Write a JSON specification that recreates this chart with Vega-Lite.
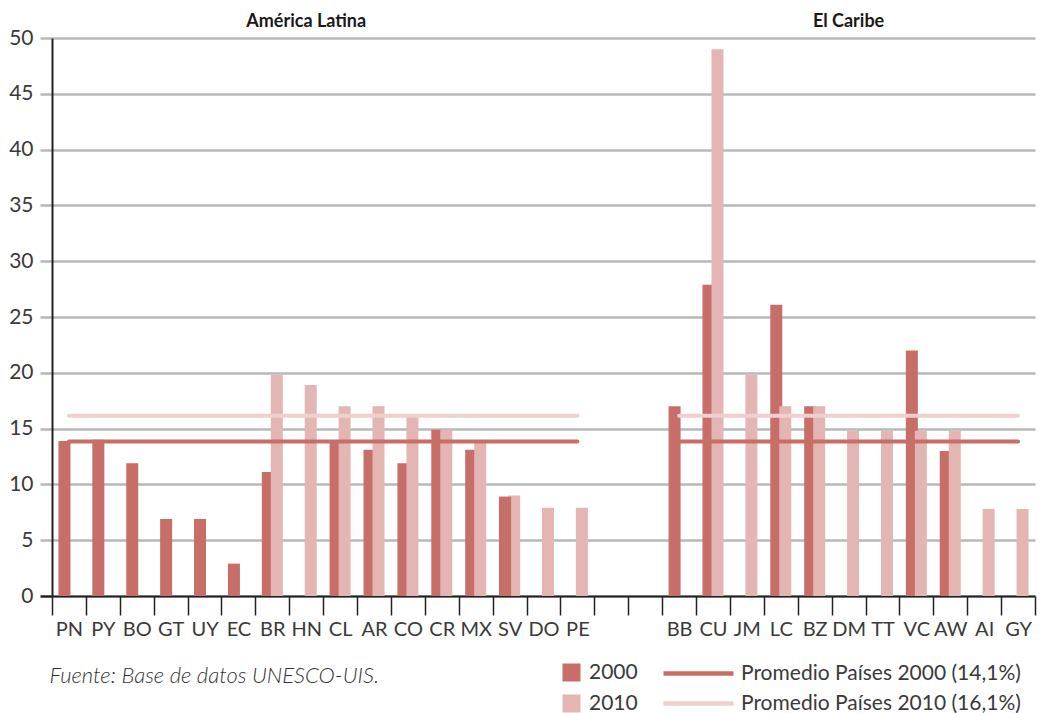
{
  "$schema": "https://vega.github.io/schema/vega-lite/v6.json",
  "width": 983,
  "height": 558,
  "autosize": {"type": "none"},
  "padding": {"left": 52, "top": 38, "right": 14, "bottom": 117},
  "background": "white",
  "config": {"view": {"stroke": null}, "font": "Lato"},
  "resolve": {"scale": {"stroke": "independent"}, "legend": {"stroke": "independent"}},
  "datasets": {
    "bars": [
      {"country": "PN", "year": "2000", "value": 13.9},
      {"country": "PY", "year": "2000", "value": 14.0},
      {"country": "BO", "year": "2000", "value": 11.9},
      {"country": "GT", "year": "2000", "value": 6.9},
      {"country": "UY", "year": "2000", "value": 6.9},
      {"country": "EC", "year": "2000", "value": 2.9},
      {"country": "BR", "year": "2000", "value": 11.1},
      {"country": "BR", "year": "2010", "value": 19.8},
      {"country": "HN", "year": "2010", "value": 18.9},
      {"country": "CL", "year": "2000", "value": 13.9},
      {"country": "CL", "year": "2010", "value": 17.0},
      {"country": "AR", "year": "2000", "value": 13.1},
      {"country": "AR", "year": "2010", "value": 17.0},
      {"country": "CO", "year": "2000", "value": 11.9},
      {"country": "CO", "year": "2010", "value": 16.2},
      {"country": "CR", "year": "2000", "value": 14.9},
      {"country": "CR", "year": "2010", "value": 14.9},
      {"country": "MX", "year": "2000", "value": 13.1},
      {"country": "MX", "year": "2010", "value": 13.9},
      {"country": "SV", "year": "2000", "value": 8.9},
      {"country": "SV", "year": "2010", "value": 9.0},
      {"country": "DO", "year": "2010", "value": 7.9},
      {"country": "PE", "year": "2010", "value": 7.9},
      {"country": "BB", "year": "2000", "value": 17.0},
      {"country": "CU", "year": "2000", "value": 27.9},
      {"country": "CU", "year": "2010", "value": 49.0},
      {"country": "JM", "year": "2010", "value": 19.8},
      {"country": "LC", "year": "2000", "value": 26.1},
      {"country": "LC", "year": "2010", "value": 17.0},
      {"country": "BZ", "year": "2000", "value": 17.0},
      {"country": "BZ", "year": "2010", "value": 17.0},
      {"country": "DM", "year": "2010", "value": 14.8},
      {"country": "TT", "year": "2010", "value": 14.8},
      {"country": "VC", "year": "2000", "value": 22.0},
      {"country": "VC", "year": "2010", "value": 14.8},
      {"country": "AW", "year": "2000", "value": 13.0},
      {"country": "AW", "year": "2010", "value": 14.8},
      {"country": "AI", "year": "2010", "value": 7.8},
      {"country": "GY", "year": "2010", "value": 7.8}
    ],
    "avg": [
      {"country": "PN", "region": "AL", "serie": "Promedio Países 2000 (14,1%)", "value": 13.85},
      {"country": "PE", "region": "AL", "serie": "Promedio Países 2000 (14,1%)", "value": 13.85},
      {"country": "BB", "region": "CA", "serie": "Promedio Países 2000 (14,1%)", "value": 13.85},
      {"country": "GY", "region": "CA", "serie": "Promedio Países 2000 (14,1%)", "value": 13.85},
      {"country": "PN", "region": "AL", "serie": "Promedio Países 2010 (16,1%)", "value": 16.15},
      {"country": "PE", "region": "AL", "serie": "Promedio Países 2010 (16,1%)", "value": 16.15},
      {"country": "BB", "region": "CA", "serie": "Promedio Países 2010 (16,1%)", "value": 16.15},
      {"country": "GY", "region": "CA", "serie": "Promedio Países 2010 (16,1%)", "value": 16.15}
    ],
    "titles": [
      {"country": "HN", "label": "América Latina"},
      {"country": "DM", "label": "El Caribe"}
    ]
  },
  "encoding": {
    "x": {
      "field": "country",
      "type": "nominal",
      "sort": null,
      "scale": {
        "domain": ["PN","PY","BO","GT","UY","EC","BR","HN","CL","AR","CO","CR","MX","SV","DO","PE"," ","  ","BB","CU","JM","LC","BZ","DM","TT","VC","AW","AI","GY"],
        "paddingInner": 0,
        "paddingOuter": 0
      },
      "axis": {
        "title": "Fuente: Base de datos UNESCO-UIS.",
        "titleAnchor": "start",
        "titleAlign": "left",
        "titleBaseline": "alphabetic",
        "titleX": -3,
        "titleY": 86,
        "titleFont": "Lato",
        "titleFontStyle": "italic",
        "titleFontWeight": 300,
        "titleFontSize": 22,
        "titleColor": "#333333",
        "tickBand": "extent",
        "labelAngle": 0,
        "labelOverlap": false,
        "tickSize": 19,
        "tickWidth": 1.5,
        "tickColor": "#222222",
        "domainColor": "#222222",
        "domainWidth": 2,
        "labelFontSize": 20,
        "labelFontWeight": 400,
        "labelColor": "#3a3a3a",
        "labelPadding": 4,
        "grid": false
      }
    }
  },
  "layer": [
    {
      "data": {"name": "bars"},
      "transform": [{"filter": "datum.year === '2000'"}],
      "mark": {"type": "bar", "width": 12, "xOffset": -4.5},
      "encoding": {
        "y": {
          "field": "value",
          "type": "quantitative",
          "title": null,
          "scale": {"domain": [0, 50], "nice": false},
          "axis": {
            "values": [0, 5, 10, 15, 20, 25, 30, 35, 40, 45, 50],
            "grid": true,
            "gridColor": "#b8b8b8",
            "gridWidth": 2.5,
            "tickSize": 12,
            "tickWidth": 2.5,
            "tickColor": {"condition": {"test": "datum.value === 0", "value": "#222222"}, "value": "#b8b8b8"},
            "domainColor": "#222222",
            "domainWidth": 2,
            "labelFontSize": 21,
            "labelFontWeight": 400,
            "labelColor": "#3a3a3a",
            "labelPadding": 7
          }
        },
        "color": {
          "field": "year",
          "type": "nominal",
          "scale": {"domain": ["2000", "2010"], "range": ["#C66E67", "#E3B6B3"]},
          "legend": {
            "orient": "none",
            "legendX": 509,
            "legendY": 624,
            "title": null,
            "symbolType": "square",
            "symbolSize": 324,
            "symbolStrokeWidth": 0,
            "labelFontSize": 21,
            "labelFontWeight": 400,
            "labelColor": "#3a3a3a",
            "labelOffset": 7,
            "rowPadding": 9,
            "padding": 0
          }
        }
      }
    },
    {
      "data": {"name": "bars"},
      "transform": [{"filter": "datum.year === '2010'"}],
      "mark": {"type": "bar", "width": 12, "xOffset": 4.5},
      "encoding": {
        "y": {"field": "value", "type": "quantitative"},
        "color": {"field": "year", "type": "nominal"}
      }
    },
    {
      "data": {"name": "bars"},
      "transform": [{"filter": "datum.year === '2000' && datum.country === 'SV'"}],
      "mark": {"type": "bar", "width": 12, "xOffset": -4.5},
      "encoding": {
        "y": {"field": "value", "type": "quantitative"},
        "color": {"field": "year", "type": "nominal"}
      }
    },
    {
      "data": {"name": "avg"},
      "transform": [{"filter": "datum.serie === 'Promedio Países 2010 (16,1%)'"}],
      "mark": {"type": "line", "strokeWidth": 4, "strokeCap": "round"},
      "encoding": {
        "y": {"field": "value", "type": "quantitative"},
        "detail": {"field": "region"},
        "stroke": {
          "field": "serie",
          "type": "nominal",
          "scale": {"domain": ["Promedio Países 2010 (16,1%)"], "range": ["#F0D0CE"]},
          "legend": {
            "orient": "none",
            "legendX": 609,
            "legendY": 628,
            "title": null,
            "symbolType": "stroke",
            "symbolSize": 4900,
            "symbolStrokeWidth": 4.5,
            "labelFontSize": 21,
            "labelFontWeight": 400,
            "labelColor": "#3a3a3a",
            "labelOffset": 5,
            "labelLimit": 500,
            "padding": 0
          }
        }
      }
    },
    {
      "data": {"name": "avg"},
      "transform": [{"filter": "datum.serie === 'Promedio Países 2000 (14,1%)'"}],
      "mark": {"type": "line", "strokeWidth": 4, "strokeCap": "round"},
      "encoding": {
        "y": {"field": "value", "type": "quantitative"},
        "detail": {"field": "region"},
        "stroke": {
          "field": "serie",
          "type": "nominal",
          "scale": {"domain": ["Promedio Países 2000 (14,1%)"], "range": ["#C86E67"]},
          "legend": {
            "orient": "none",
            "legendX": 609,
            "legendY": 598,
            "title": null,
            "symbolType": "stroke",
            "symbolSize": 4900,
            "symbolStrokeWidth": 4.5,
            "labelFontSize": 21,
            "labelFontWeight": 400,
            "labelColor": "#3a3a3a",
            "labelOffset": 5,
            "labelLimit": 500,
            "padding": 0
          }
        }
      }
    },
    {
      "data": {"name": "titles"},
      "mark": {"type": "text", "fontWeight": "bold", "fontSize": 18, "dy": -11, "baseline": "alphabetic", "align": "center", "color": "#1a1a1a"},
      "encoding": {
        "y": {"datum": 50, "type": "quantitative"},
        "text": {"field": "label"}
      }
    }
  ]
}
